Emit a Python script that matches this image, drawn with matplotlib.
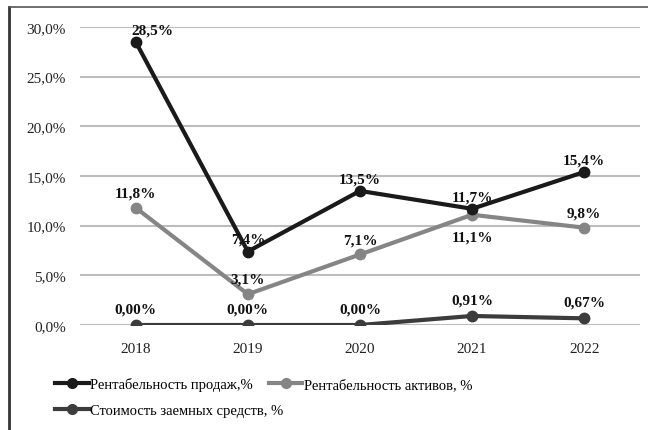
import matplotlib
matplotlib.use("Agg")
import matplotlib.pyplot as plt
from matplotlib.lines import Line2D

years = ["2018", "2019", "2020", "2021", "2022"]
sales = [28.5, 7.4, 13.5, 11.7, 15.4]
assets = [11.8, 3.1, 7.1, 11.1, 9.8]
debt_cost = [0.00, 0.00, 0.00, 0.91, 0.67]
y_ticks = [0, 5, 10, 15, 20, 25, 30]

names = ["Рентабельность продаж,%", "Рентабельность активов, %",
         "Стоимость заемных средств, %"]

plt.rcParams['font.family'] = ['Liberation Serif', 'DejaVu Serif']

fig = plt.figure(figsize=(6.48, 4.31), dpi=100)
ax = fig.add_axes([0.123, 0.2436, 0.865, 0.6914])

x = list(range(len(years)))
c_sales, c_assets, c_debt = '#1a1a1a', '#858585', '#3c3c3c'

ax.plot(x, sales, color=c_sales, lw=3, marker='o', ms=7.5, zorder=4)
ax.plot(x, assets, color=c_assets, lw=3, marker='o', ms=7.5, zorder=3)
ax.plot(x, debt_cost, color=c_debt, lw=3, marker='o', ms=7.5, zorder=5)

def fmt(v, d):
    return f"{v:.{d}f}".replace('.', ',') + '%'

lab = dict(fontsize=11, fontweight='bold', ha='center', color='#111111', zorder=6)
for i, v in enumerate(sales):
    dx = 12 if i == 0 else 0
    ax.annotate(fmt(v, 1), (i, v), xytext=(dx, 4), textcoords='offset points',
                va='bottom', **lab)
for i, v in enumerate(assets):
    if i == 3:
        ax.annotate(fmt(v, 1), (i, v), xytext=(0, -11), textcoords='offset points',
                    va='top', **lab)
    else:
        ax.annotate(fmt(v, 1), (i, v), xytext=(0, 6), textcoords='offset points',
                    va='bottom', **lab)
for i, v in enumerate(debt_cost):
    ax.annotate(fmt(v, 2), (i, v), xytext=(0, 7), textcoords='offset points',
                va='bottom', **lab)

ax.set_xlim(-0.5, len(years) - 0.5)
ax.set_ylim(0, 30)
ax.set_yticks(y_ticks)
ax.set_yticklabels([fmt(t, 1) for t in y_ticks])
ax.set_xticks(x)
ax.set_xticklabels(years)
ax.tick_params(length=0, labelsize=11, colors='#222222')
ax.tick_params(axis='x', pad=12)
ax.tick_params(axis='y', pad=10)
for s in ax.spines.values():
    s.set_visible(False)
ax.yaxis.grid(True, color='#bdbdbd', lw=1.5)
ax.set_axisbelow(True)

# legend columns fill top-down, so order: sales, debt | assets
h = {c: Line2D([], [], color=c, lw=3, marker='o', ms=7) for c in (c_sales, c_assets, c_debt)}
fig.legend([h[c_sales], h[c_debt], h[c_assets]], [names[0], names[2], names[1]],
           loc='lower left', bbox_to_anchor=(0.065, 0.0), ncol=2,
           frameon=False, fontsize=10.5, handlelength=2.3, handletextpad=0.1,
           columnspacing=-1.0, labelspacing=0.85)

# frame around the picture
fig.add_artist(Line2D([0.014, 0.014], [0, 0.982], color='#333333', lw=2))
fig.add_artist(Line2D([0.014, 1.0], [0.982, 0.982], color='#555555', lw=1.2))

fig.savefig("out.png", dpi=100)
